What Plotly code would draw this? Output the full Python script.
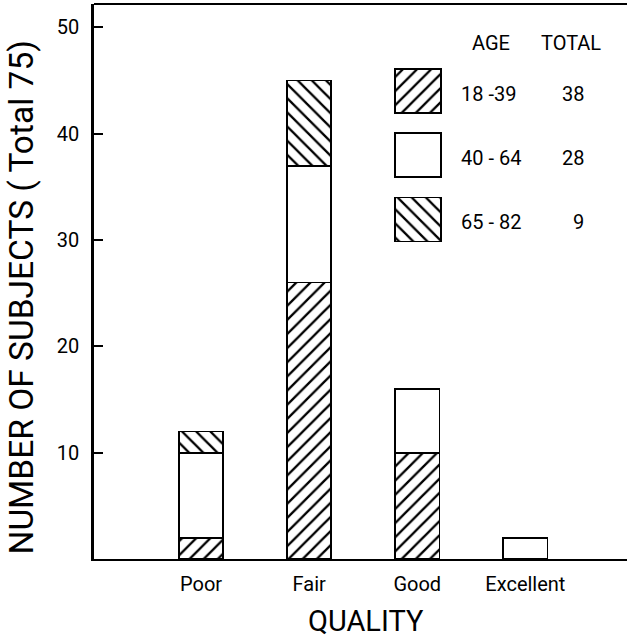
import plotly.graph_objects as go

# ---- data ----
categories = ["Poor", "Fair", "Good", "Excellent"]
age_groups = ["18 -39", "40 - 64", "65 - 82"]
age_totals = ["38", "28", "9"]
counts_18_39 = [2, 26, 10, 0]
counts_40_64 = [8, 11, 6, 2]
counts_65_82 = [2, 8, 0, 0]
y_ticks = [10, 20, 30, 40, 50]
patterns = ["/", "", "\\"]
series = [counts_18_39, counts_40_64, counts_65_82]

FONT = "Roboto, DejaVu Sans, sans-serif"

fig = go.Figure()

for name, vals, pat in zip(age_groups, series, patterns):
    marker = dict(color="white", line=dict(color="black", width=1.8))
    if pat:
        marker["pattern"] = dict(shape=pat, fgcolor="black", bgcolor="white",
                                 fgopacity=1, size=10, solidity=0.23)
    fig.add_trace(go.Bar(x=categories, y=vals, name=name, width=0.41,
                         marker=marker, showlegend=False))

# legend swatches drawn as bars on an auxiliary hidden axis pair
fig.add_trace(go.Bar(
    x=[1, 1, 1], y=age_groups, orientation="h", xaxis="x2", yaxis="y2",
    width=0.685, showlegend=False,
    marker=dict(color="white", line=dict(color="black", width=1.8),
                pattern=dict(shape=patterns, fgcolor="black", bgcolor="white",
                             fgopacity=1, size=10, solidity=0.23)),
))

W, H = 627, 640
L, R, T, B = 94, 0, 4, 81
pw, ph = W - L - R, H - T - B


def px_x(p):
    return (p - L) / pw


def px_y(p):
    return (H - B - p) / ph


fig.update_layout(
    width=W, height=H,
    margin=dict(l=L, r=R, t=T, b=B),
    barmode="stack",
    plot_bgcolor="white", paper_bgcolor="white",
    font=dict(family=FONT, color="black"),
    xaxis=dict(
        type="category", categoryarray=categories, range=[-0.99, 3.94],
        showline=True, linecolor="black", linewidth=2, ticks="",
        showgrid=False, zeroline=False,
        tickfont=dict(size=20, family=FONT), ticklabelstandoff=6,
    ),
    yaxis=dict(
        range=[0, 52.2], tickvals=y_ticks, ticks="inside", ticklen=9,
        tickwidth=2, tickcolor="black", showline=True, linecolor="black",
        linewidth=2.5, showgrid=False, zeroline=False,
        tickfont=dict(size=20, family=FONT), ticklabelstandoff=8,
    ),
    xaxis2=dict(domain=[px_x(392.7), px_x(443.3)], range=[-0.05, 1.05],
                visible=False, anchor="y2", fixedrange=True),
    yaxis2=dict(domain=[px_y(245.2), px_y(65.3)], type="category",
                categoryarray=age_groups, range=[2.4, -0.4],
                visible=False, anchor="x2", fixedrange=True),
    shapes=[dict(type="line", xref="paper", yref="paper", x0=0, x1=1,
                 y0=1, y1=1, line=dict(color="black", width=2))],
)

ann = []
ann.append(dict(text="NUMBER OF SUBJECTS ( Total 75)", xref="paper", yref="paper",
                x=px_x(21), y=px_y(297.5), textangle=-90, showarrow=False,
                font=dict(size=33.5, family=FONT), xanchor="center", yanchor="middle"))
ann.append(dict(text="QUALITY", xref="paper", yref="paper", x=px_x(366),
                y=px_y(621), showarrow=False, font=dict(size=29, family=FONT),
                xanchor="center", yanchor="middle"))
ann.append(dict(text="AGE", xref="paper", yref="paper", x=px_x(470), y=px_y(43),
                showarrow=False, font=dict(size=20, family=FONT),
                xanchor="left", yanchor="middle"))
ann.append(dict(text="TOTAL", xref="paper", yref="paper", x=px_x(603), y=px_y(43),
                showarrow=False, font=dict(size=20, family=FONT),
                xanchor="right", yanchor="middle"))
for g, t in zip(age_groups, age_totals):
    ann.append(dict(text=g, xref="paper", yref="y2", x=px_x(459), y=g,
                    yshift=-3, showarrow=False, font=dict(size=20, family=FONT),
                    xanchor="left", yanchor="middle"))
    ann.append(dict(text=t, xref="paper", yref="y2", x=px_x(586), y=g,
                    yshift=-3, showarrow=False, font=dict(size=20, family=FONT),
                    xanchor="right", yanchor="middle"))
fig.update_layout(annotations=ann)

fig.write_html("out.html")
